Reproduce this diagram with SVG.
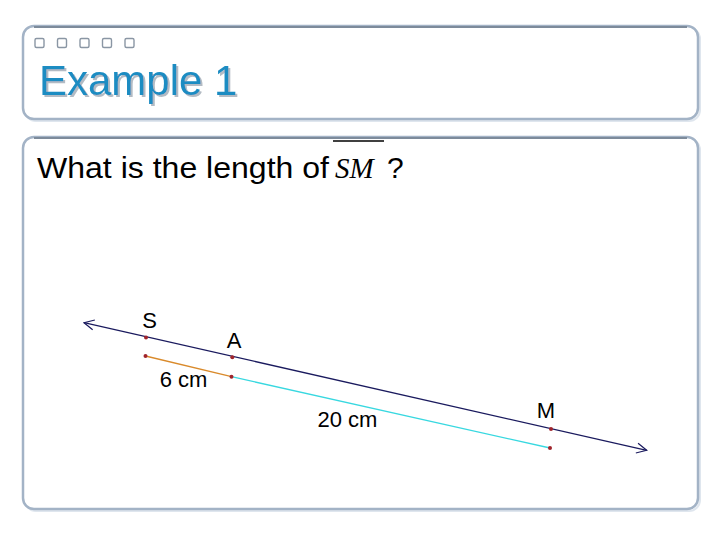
<svg xmlns="http://www.w3.org/2000/svg" width="720" height="540" viewBox="0 0 720 540">
<defs>
<style>
.panel{fill:#ffffff;stroke:#a3b3c6;stroke-width:2.5}
.shade{fill:none;stroke:#dfe6ee;stroke-width:2}
.sq{fill:#ffffff;stroke:#8a96a4;stroke-width:1.4}
.lbl{font-family:"Liberation Sans",Arial,sans-serif;fill:#000000}
.dot{fill:#a0242c}
</style>
<filter id="ts" x="-5%" y="-20%" width="115%" height="150%">
<feDropShadow dx="2" dy="2" stdDeviation="0.6" flood-color="#aab4be" flood-opacity="0.9"/>
</filter>
<marker id="arr" viewBox="0 0 12 12" refX="11" refY="6" markerWidth="12" markerHeight="12" markerUnits="userSpaceOnUse" orient="auto-start-reverse">
<path d="M1,1 L11,6 L1,11" fill="none" stroke="#1a1a5e" stroke-width="1.2"/>
</marker>
</defs>
<rect width="720" height="540" fill="#ffffff"/>
<g id="title-panel">
<rect class="shade" x="25" y="28" width="675" height="93" rx="11"/>
<rect class="panel" x="23" y="26" width="675" height="93" rx="11"/>
<path d="M34,27 H687" stroke="#7d8b9b" stroke-width="2" fill="none"/>
<rect class="sq" x="35" y="38.5" width="9" height="9" rx="1.5"/>
<rect class="sq" x="57.5" y="38.5" width="9" height="9" rx="1.5"/>
<rect class="sq" x="80" y="38.5" width="9" height="9" rx="1.5"/>
<rect class="sq" x="102.5" y="38.5" width="9" height="9" rx="1.5"/>
<rect class="sq" x="125" y="38.5" width="9" height="9" rx="1.5"/>
<text x="39" y="95" font-family="'Liberation Sans',Arial,sans-serif" font-size="42" fill="#1b8cc2" filter="url(#ts)">Example 1</text>
</g>
<g id="body-panel">
<rect class="shade" x="25" y="139" width="675" height="372" rx="11"/>
<rect class="panel" x="23" y="137" width="675" height="372" rx="11"/>
<path d="M34,138 H687" stroke="#7d8b9b" stroke-width="2" fill="none"/>
<text class="lbl" x="37" y="178" font-size="30" textLength="292" lengthAdjust="spacingAndGlyphs">What is the length of</text>
<text x="335" y="178" font-family="'Liberation Serif','Times New Roman',serif" font-style="italic" font-size="29" fill="#000000">SM</text>
<line x1="333" y1="141" x2="384" y2="141" stroke="#000000" stroke-width="1.6"/>
<text class="lbl" x="387" y="178" font-size="30">?</text>
</g>
<g id="connectors">
<line x1="84" y1="322.7" x2="646.7" y2="450.3" stroke="#1a1a5e" stroke-width="1.3" marker-start="url(#arr)" marker-end="url(#arr)"/>
<line x1="145.5" y1="356" x2="231.5" y2="376.7" stroke="#d98a2b" stroke-width="1.3"/>
<line x1="231.5" y1="376.7" x2="550" y2="448" stroke="#38d8e0" stroke-width="1.3"/>
</g>
<g id="point-S">
<circle class="dot" cx="146" cy="337.5" r="2"/>
<text class="lbl" x="149.6" y="328" font-size="22" text-anchor="middle">S</text>
</g>
<g id="point-A">
<circle class="dot" cx="232.3" cy="357.3" r="2"/>
<text class="lbl" x="234.2" y="348" font-size="22" text-anchor="middle">A</text>
</g>
<g id="point-M">
<circle class="dot" cx="551" cy="429" r="2"/>
<text class="lbl" x="546" y="418" font-size="22" text-anchor="middle">M</text>
</g>
<g id="seg-SA">
<circle class="dot" cx="145.5" cy="356" r="2"/>
<circle class="dot" cx="231.5" cy="376.7" r="2"/>
<text class="lbl" x="183.5" y="387" font-size="22" text-anchor="middle">6 cm</text>
</g>
<g id="seg-AM">
<circle class="dot" cx="550" cy="448" r="2"/>
<text class="lbl" x="347.5" y="427" font-size="22" text-anchor="middle">20 cm</text>
</g>
</svg>
